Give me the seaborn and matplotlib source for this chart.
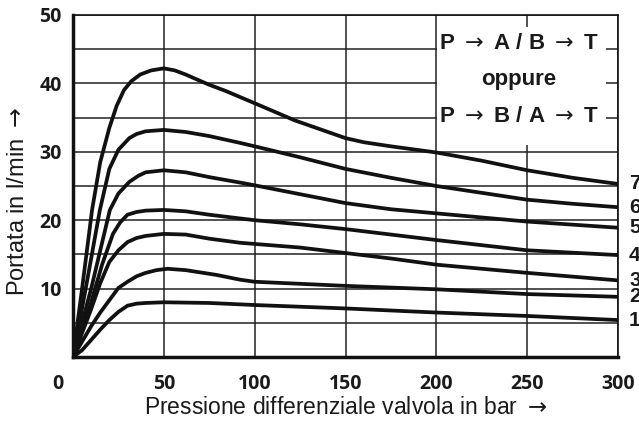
import matplotlib
matplotlib.use("Agg")
import matplotlib.pyplot as plt
import matplotlib.transforms as mtransforms
from matplotlib.patches import Rectangle
import seaborn as sns
import pandas as pd

# ---- data ----
c7_x = [0, 5, 10.5, 15, 20, 24, 28, 32, 37, 43, 50, 56, 62, 68, 75, 84, 92, 100, 122, 150, 160, 175, 200, 225, 250, 275, 300]
c7_y = [0, 10, 21.5, 28.5, 33.5, 36.7, 39.0, 40.3, 41.3, 41.9, 42.2, 41.9, 41.3, 40.6, 39.8, 38.9, 38.0, 37.1, 34.6, 32.0, 31.4, 30.8, 29.9, 28.7, 27.3, 26.2, 25.3]
c6_x = [0, 7, 14.8, 20, 25, 31, 35, 40, 50, 62, 75, 92, 100, 125, 150, 175, 200, 225, 250, 275, 300]
c6_y = [0, 10, 21.5, 27.5, 30.3, 32.0, 32.6, 33.0, 33.2, 32.9, 32.3, 31.3, 30.8, 29.2, 27.5, 26.2, 25.0, 24.0, 23.0, 22.4, 21.9]
c5_x = [0, 10, 20.3, 25, 31, 36, 40, 50, 62, 75, 92, 100, 125, 150, 175, 200, 250, 300]
c5_y = [0, 10, 21.5, 23.9, 25.6, 26.5, 27.0, 27.3, 27.0, 26.3, 25.5, 25.1, 23.8, 22.5, 21.6, 21.0, 19.8, 18.9]
c4_x = [0, 10, 16, 22, 26, 30, 35, 40, 50, 62, 75, 100, 125, 150, 175, 200, 250, 300]
c4_y = [0, 8, 13.5, 18, 19.7, 20.8, 21.2, 21.4, 21.5, 21.3, 20.8, 20.0, 19.4, 18.7, 17.9, 17.1, 15.6, 14.9]
c3_x = [0, 10, 15, 20, 25, 30, 35, 40, 50, 62, 75, 92, 125, 150, 175, 200, 250, 300]
c3_y = [0, 7, 10.8, 13.9, 15.6, 16.8, 17.4, 17.7, 18.0, 17.9, 17.3, 16.7, 16.0, 15.2, 14.4, 13.5, 12.3, 11.2]
c2_x = [0, 10, 15, 20, 25, 30, 35, 40, 46, 52, 62, 79, 92, 100, 125, 150, 200, 250, 300]
c2_y = [0, 4.5, 6.5, 8.3, 10.1, 11.0, 11.8, 12.3, 12.7, 12.9, 12.7, 12.0, 11.3, 11.0, 10.7, 10.4, 9.9, 9.2, 8.8]
c1_x = [0, 5, 10, 15, 20, 25, 30, 35, 40, 50, 75, 100, 150, 200, 250, 300]
c1_y = [0, 1.0, 2.5, 4.0, 5.4, 6.6, 7.5, 7.8, 7.9, 8.0, 7.9, 7.6, 7.1, 6.5, 6.0, 5.4]

curve_labels = ["1", "2", "3", "4", "5", "6", "7"]
curves_x = [c1_x, c2_x, c3_x, c4_x, c5_x, c6_x, c7_x]
curves_y = [c1_y, c2_y, c3_y, c4_y, c5_y, c6_y, c7_y]

x_ticks = [0, 50, 100, 150, 200, 250, 300]
x_ticklabels = ["0", "50", "100", "150", "200", "250", "300"]
y_ticks = [0, 5, 10, 15, 20, 25, 30, 35, 40, 45, 50]
y_ticklabels = ["", "", "10", "", "20", "", "30", "", "40", "", "50"]

ARROW = r"$\rightarrow$"
box_lines = [f"P {ARROW} A / B {ARROW} T", "oppure", f"P {ARROW} B / A {ARROW} T"]
xlabel = f"Pressione differenziale valvola in bar {ARROW}"
ylabel = f"Portata in l/min {ARROW}"

rows = []
for lab, xs, ys in zip(curve_labels, curves_x, curves_y):
    for xv, yv in zip(xs, ys):
        rows.append({"curve": lab, "p": xv, "q": yv})
df = pd.DataFrame(rows)

# ---- style ----
sns.set_style("white")
plt.rcParams["font.family"] = ["Liberation Sans", "DejaVu Sans"]
plt.rcParams["mathtext.fontset"] = "dejavusans"

fig = plt.figure(figsize=(6.39, 4.23), dpi=100)
ax = fig.add_axes([73 / 639, (423 - 357) / 423, (618 - 73) / 639, (357 - 15) / 423])

sns.lineplot(data=df, x="p", y="q", hue="curve", units="curve", estimator=None,
             sort=False, palette=["#111111"] * 7, linewidth=2.7, legend=False,
             ax=ax, zorder=3)

ax.set_xlim(0, 300)
ax.set_ylim(0, 50)
ax.set_xticks(x_ticks)
ax.set_xticklabels(x_ticklabels)
ax.set_yticks(y_ticks)
ax.set_yticklabels(y_ticklabels)
ax.grid(True, color="#222222", linewidth=1.1)
ax.set_axisbelow(True)

for lab in ax.get_xticklabels() + ax.get_yticklabels():
    lab.set_fontfamily(["Open Sans", "DejaVu Sans"])
    lab.set_fontweight("bold")
    lab.set_fontsize(14)
    lab.set_color("#1a1a1a")
ax.tick_params(axis="x", length=0, pad=12)
ax.tick_params(axis="y", length=0, pad=8)
# shift the "0" label left, as in the reference
xl = ax.get_xticklabels()
xl[0].set_transform(xl[0].get_transform() + mtransforms.ScaledTranslation(-15 / 100, 0, fig.dpi_scale_trans))

for side in ["left", "bottom"]:
    ax.spines[side].set_linewidth(2.5)
    ax.spines[side].set_color("#111111")
for side in ["top", "right"]:
    ax.spines[side].set_linewidth(1.2)
    ax.spines[side].set_color("#111111")

ax.set_xlabel(xlabel, fontsize=16.5, labelpad=2, color="#1a1a1a")
ax.set_ylabel(ylabel, fontsize=17, color="#1a1a1a")
ax.yaxis.set_label_coords(-0.081, 0.456)

# white box hiding grid behind the flow direction text
ax.add_patch(Rectangle((200.6, 31.0), 93.0, 17.2, facecolor="white", edgecolor="none", zorder=1.5))
for txt, yv in zip(box_lines, [45.8, 40.5, 35.2]):
    ax.text(245.5, yv, txt, ha="center", va="center", fontsize=16, fontweight="bold",
            color="#1a1a1a", zorder=4)

# curve numbers at the right end (partly beyond the figure edge, as in the reference)
for lab, ys in zip(curve_labels, curves_y):
    ax.annotate(lab, xy=(300, ys[-1]), xytext=(8, 0), textcoords="offset points",
                ha="left", va="center", fontsize=15, fontweight="bold",
                color="#1a1a1a", annotation_clip=False)

fig.savefig("out.png", dpi=100)
